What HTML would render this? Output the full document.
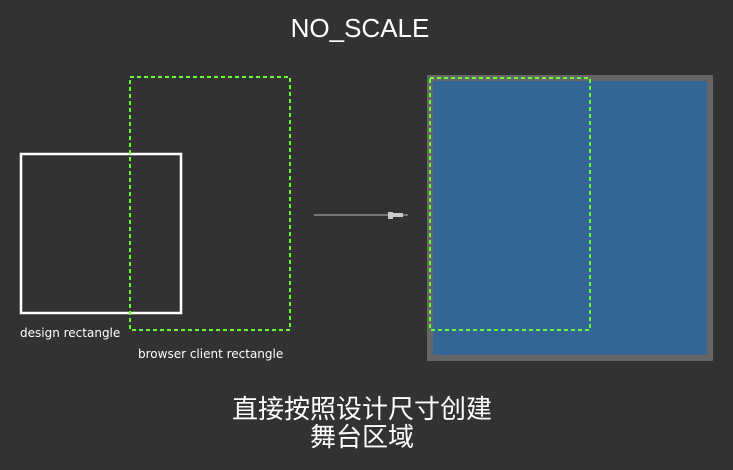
<!DOCTYPE html>
<html><head><style>
body{margin:0;background:#323232;width:733px;height:465px;overflow:hidden}
</style></head><body>
<svg width="733" height="465" xmlns="http://www.w3.org/2000/svg">
<rect width="733" height="465" fill="#323232"/>
<text x="360" y="37" fill="#fff" font-family="Liberation Sans, sans-serif" font-size="26" text-anchor="middle">NO_SCALE</text>
<rect x="21" y="154" width="160" height="159" fill="none" stroke="#fff" stroke-width="2.5"/>
<rect x="130" y="77" width="160" height="253" fill="none" stroke="#66ff33" stroke-width="2" stroke-dasharray="4,3"/>
<text x="20" y="337" fill="#fff" font-family="DejaVu Sans, sans-serif" font-size="12">design rectangle</text>
<text x="138" y="358" fill="#fff" font-family="DejaVu Sans, sans-serif" font-size="12">browser client rectangle</text>
<line x1="314" y1="215" x2="408" y2="215" stroke="#bbb" stroke-width="1"/>
<polygon points="388,212 393,212 393,213 403,213 403,217 393,217 393,219 388,219" fill="#ccc"/>
<rect x="427" y="75" width="286" height="286" fill="#666" rx="1"/>
<rect x="433" y="81" width="274" height="274" fill="#336595"/>
<rect x="430" y="78" width="160" height="252" fill="none" stroke="#66ff33" stroke-width="2" stroke-dasharray="4,3"/>
<text x="362" y="418" fill="#fff" font-family="Liberation Sans, 'Noto Sans CJK SC', sans-serif" font-size="26" text-anchor="middle">直接按照设计尺寸创建</text>
<text x="362" y="446" fill="#fff" font-family="Liberation Sans, 'Noto Sans CJK SC', sans-serif" font-size="26" text-anchor="middle">舞台区域</text>
</svg>
</body></html>
